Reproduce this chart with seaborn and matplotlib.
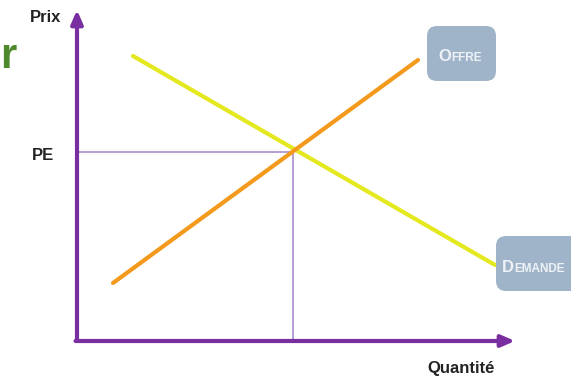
import pandas as pd
import matplotlib.pyplot as plt
import seaborn as sns
from matplotlib.patches import FancyBboxPatch

# supply / demand lines (quantity, price) in chart units
demand_q = [0.56, 4.18]
demand_p = [2.85, 0.76]
supply_q = [0.36, 3.41]
supply_p = [0.58, 2.81]
# equilibrium
qe = 2.16
pe = 1.89
labels = ['Offre', 'Demande']

df = pd.DataFrame({
    'q': demand_q + supply_q,
    'p': demand_p + supply_p,
    'courbe': ['Demande'] * 2 + ['Offre'] * 2,
})

sns.set_style('white')
plt.rcParams['font.family'] = ['Liberation Sans Narrow', 'Liberation Sans', 'DejaVu Sans']

fig = plt.figure(figsize=(5.71, 3.78), dpi=100)
ax = fig.add_axes([0, 0, 1, 1])
ax.set_xlim(-0.77, 4.94)
ax.set_ylim(-0.37, 3.41)
ax.axis('off')

purple = '#7a2fa0'
light_purple = '#a98ccf'

# guides to equilibrium
ax.plot([0, qe], [pe, pe], color=light_purple, lw=1.2, zorder=2)
ax.plot([qe, qe], [0, pe], color=light_purple, lw=1.2, zorder=2)

sns.lineplot(data=df, x='q', y='p', hue='courbe', ax=ax, lw=3,
             palette={'Demande': '#e4e81e', 'Offre': '#f39a1c'},
             legend=False, zorder=3, solid_capstyle='round')

# axes with arrows
ax.annotate('', xy=(0, 3.31), xytext=(0, 0),
            arrowprops=dict(arrowstyle='-|>,head_width=0.35,head_length=0.8',
                            color=purple, lw=3, shrinkA=0, shrinkB=0))
ax.annotate('', xy=(4.38, 0), xytext=(-0.015, 0),
            arrowprops=dict(arrowstyle='-|>,head_width=0.35,head_length=0.8',
                            color=purple, lw=3, shrinkA=0, shrinkB=0))

ax.text(-0.16, 3.23, 'Prix', fontsize=12, fontweight='bold', color='#222222',
        ha='right', va='center')
ax.text(-0.34, pe - 0.03, 'PE', fontsize=12, fontweight='bold', color='#222222',
        ha='center', va='center')
ax.text(3.84, -0.27, 'Quantité', fontsize=12, fontweight='bold', color='#222222',
        ha='center', va='center')

# label boxes
box_col = '#9fb4c8'
txt_col = '#eef2f6'
ax.add_patch(FancyBboxPatch((3.55, 2.65), 0.59, 0.45,
                            boxstyle='round,pad=0.05,rounding_size=0.1',
                            fc=box_col, ec='none', zorder=4))
ax.add_patch(FancyBboxPatch((4.24, 0.55), 0.9, 0.45,
                            boxstyle='round,pad=0.05,rounding_size=0.1',
                            fc=box_col, ec='none', zorder=4))

def small_caps(x, y, word):
    ax.text(x, y, word[0].upper(), fontsize=12, fontweight='bold',
            color=txt_col, ha='right', va='baseline', zorder=5)
    ax.text(x, y, word[1:].upper(), fontsize=8.5, fontweight='bold',
            color=txt_col, ha='left', va='baseline', zorder=5)

small_caps(3.74, 2.80, labels[0])
small_caps(4.37, 0.69, labels[1])

# cropped heading letter
ax.text(-0.765, 2.73, 'r', fontsize=30, fontweight='bold', color='#4e8a2c',
        ha='left', va='baseline')

fig.savefig('out.png', dpi=100)
